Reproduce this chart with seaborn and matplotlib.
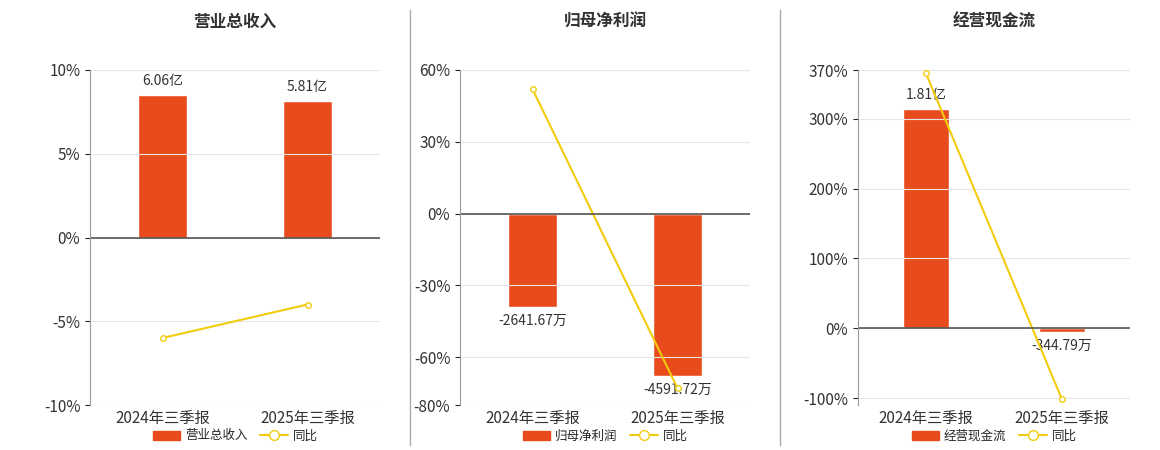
import seaborn as sns
import matplotlib.pyplot as plt
import pandas as pd
from matplotlib.lines import Line2D
from matplotlib.patches import Patch

sns.set_style("white")
plt.rcParams['font.family'] = ['Noto Sans CJK SC', 'DejaVu Sans']

periods = ['2024年三季报', '2025年三季报']
titles = ['营业总收入', '归母净利润', '经营现金流']
bar_values = [[6.06e8, 5.81e8], [-2641.67e4, -4591.72e4], [1.81e8, -344.79e4]]
bar_labels = [['6.06亿', '5.81亿'], ['-2641.67万', '-4591.72万'], ['1.81亿', '-344.79万']]
yoy = [[-6.0, -4.0], [52.0, -73.0], [365.0, -102.0]]
ylims = [(-10, 10), (-80, 60), (-110, 370)]
yticks = [[-10, -5, 0, 5, 10], [-80, -60, -30, 0, 30, 60], [-100, 0, 100, 200, 300, 370]]

BAR = '#e84c1d'
LINE = '#f2cc0c'

fig = plt.figure(figsize=(11.6, 4.5), dpi=100)
lefts = [90, 460, 858]
width = [290, 290, 272]
for i in range(3):
    ax = fig.add_axes([lefts[i] / 1160, 45 / 450, width[i] / 1160, 335 / 450])
    lo, hi = ylims[i]
    ax.set_ylim(lo, hi)
    ax.set_yticks(yticks[i])
    ax.set_yticklabels([f'{t}%' for t in yticks[i]], fontsize=11, color='#333333')
    ax.grid(axis='y', color='#e6e6e6', lw=0.8)
    ax.set_axisbelow(True)

    # bars on a twin axis, zero aligned with the percent axis
    bx = ax.twinx()
    vals = bar_values[i]
    m = max(abs(v) for v in vals)
    vmax = max(vals)
    vmin = min(vals)
    if abs(vmax) >= abs(vmin):
        k = vmax / (0.85 * hi)
    else:
        k = vmin / (0.85 * lo)
    bx.set_ylim(lo * k, hi * k)
    df = pd.DataFrame({'period': periods, 'value': vals})
    sns.barplot(data=df, x='period', y='value', ax=bx, color=BAR, width=0.34, saturation=1)
    for j, v in enumerate(vals):
        off = 0.02 * (hi - lo) * k
        bx.text(j, v + off if v >= 0 else v - off, bar_labels[i][j], ha='center',
                va='bottom' if v >= 0 else 'top', fontsize=10, color='#333333')
    bx.set_yticks([])
    bx.set_ylabel('')
    bx.set_xlabel('')
    bx.set_zorder(1)
    ax.set_zorder(2)
    ax.patch.set_visible(False)

    ax.plot(range(2), yoy[i], color=LINE, lw=1.5, marker='o', ms=4,
            markerfacecolor='white', markeredgecolor=LINE)
    ax.axhline(0, color='#555555', lw=1.2)
    ax.set_xlim(-0.5, 1.5)
    ax.set_xticks(range(2))
    ax.set_xticklabels(periods, fontsize=11, color='#333333')
    ax.tick_params(axis='x', length=0)
    for a in (ax, bx):
        for s in ['top', 'right']:
            a.spines[s].set_visible(False)
        a.spines['left'].set_color('#999999')
        a.spines['bottom'].set_visible(False)
    bx.spines['left'].set_visible(False)

    cx = (lefts[i] + width[i] / 2) / 1160
    fig.text(cx, 1 - 22 / 450, titles[i], ha='center', va='center', fontsize=12,
             fontweight='bold', color='#333333')
    handles = [Patch(color=BAR), Line2D([], [], color=LINE, marker='o', ms=7,
                                        markerfacecolor='white', lw=1.5)]
    fig.legend(handles, [titles[i], '同比'], loc='center', bbox_to_anchor=(cx, 1 - 436 / 450),
               ncol=2, frameon=False, fontsize=9, handlelength=2.2, columnspacing=1,
               handletextpad=0.4)

for x in [410, 780]:
    fig.add_artist(Line2D([x / 1160, x / 1160], [1 - 445 / 450, 1 - 10 / 450],
                          color='#aaaaaa', lw=1))

fig.savefig('out.png', dpi=100)
